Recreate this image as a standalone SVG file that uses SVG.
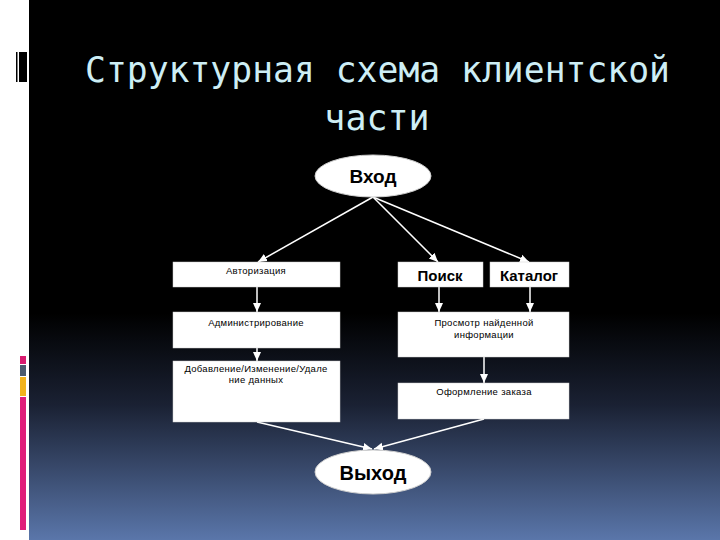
<svg xmlns="http://www.w3.org/2000/svg" width="720" height="540" viewBox="0 0 720 540">
  <defs>
    <linearGradient id="bg" x1="0" y1="0" x2="0" y2="540" gradientUnits="userSpaceOnUse">
      <stop offset="0" stop-color="#000000"/>
      <stop offset="0.58" stop-color="#000000"/>
      <stop offset="0.75" stop-color="#1a2133"/>
      <stop offset="1" stop-color="#5a76aa"/>
    </linearGradient>
    <marker id="ah" markerUnits="userSpaceOnUse" markerWidth="10" markerHeight="10" viewBox="0 0 10 10" refX="9" refY="5" orient="auto">
      <path d="M0,1 L9,5 L0,9 Z" fill="#ffffff"/>
    </marker>
    <style>
      .title { font-family: "DejaVu Sans Mono", "Liberation Mono", monospace; font-size: 35px; fill: #cdeef5; }
      .box { fill: #ffffff; stroke: #d0d0d0; stroke-width: 0.5; }
      .ell { fill: #ffffff; stroke: #cfcfcf; stroke-width: 1; }
      .small { font-family: "Liberation Sans", Arial, sans-serif; font-size: 9.5px; fill: #000000; text-anchor: middle; letter-spacing: 0.3px; }
      .bold { font-family: "Liberation Sans", Arial, sans-serif; font-weight: bold; fill: #000000; text-anchor: middle; }
      .conn line { stroke: #ffffff; stroke-width: 1.5; marker-end: url(#ah); }
    </style>
  </defs>

  <!-- background -->
  <rect x="0" y="0" width="720" height="540" fill="#ffffff"/>
  <rect x="29" y="0" width="691" height="540" fill="url(#bg)"/>

  <!-- left decorations -->
  <rect x="16" y="52" width="1.5" height="30" fill="#000000"/>
  <rect x="19" y="52" width="8" height="30" fill="#000000"/>
  <rect x="20" y="356" width="6" height="8" fill="#d81b6f"/>
  <rect x="20" y="365" width="6" height="11" fill="#4b5a6e"/>
  <rect x="20" y="377" width="6" height="19" fill="#f2b31c"/>
  <rect x="20" y="397" width="6" height="133" fill="#e01d7a"/>

  <!-- title -->
  <text class="title" x="85" y="82" textLength="585" lengthAdjust="spacingAndGlyphs">Структурная схема клиентской</text>
  <text class="title" x="377" y="130" text-anchor="middle">части</text>

  <!-- connectors -->
  <g id="connectors" class="conn">
    <line x1="373" y1="197" x2="258" y2="262"/>
    <line x1="373" y1="197" x2="438" y2="262"/>
    <line x1="373" y1="197" x2="529" y2="262"/>
    <line x1="257" y1="287" x2="257" y2="312"/>
    <line x1="439" y1="287" x2="439" y2="312"/>
    <line x1="530" y1="287" x2="530" y2="312"/>
    <line x1="257" y1="348" x2="257" y2="361"/>
    <line x1="484" y1="357" x2="484" y2="383"/>
    <line x1="257" y1="422" x2="372" y2="449"/>
    <line x1="484" y1="419" x2="374" y2="449"/>
  </g>

  <!-- nodes -->
  <g id="vhod">
    <ellipse class="ell" cx="373" cy="176" rx="58" ry="21"/>
    <text class="bold" x="373" y="183" font-size="19">Вход</text>
  </g>
  <g id="avtorizaciya">
    <rect class="box" x="173" y="262" width="167" height="25"/>
    <text class="small" x="256" y="274">Авторизация</text>
  </g>
  <g id="poisk">
    <rect class="box" x="398" y="262" width="85" height="25"/>
    <text class="bold" x="440" y="281" font-size="15">Поиск</text>
  </g>
  <g id="katalog">
    <rect class="box" x="490" y="262" width="79" height="25"/>
    <text class="bold" x="529" y="281" font-size="15">Каталог</text>
  </g>
  <g id="administrirovanie">
    <rect class="box" x="173" y="312" width="167" height="36"/>
    <text class="small" x="256" y="326">Администрирование</text>
  </g>
  <g id="prosmotr">
    <rect class="box" x="398" y="312" width="171" height="45"/>
    <text class="small" x="484" y="326">Просмотр найденной</text>
    <text class="small" x="484" y="338">информации</text>
  </g>
  <g id="dobavlenie">
    <rect class="box" x="173" y="361" width="167" height="61"/>
    <text class="small" x="256" y="372">Добавление/Изменение/Удале</text>
    <text class="small" x="256" y="383">ние данных</text>
  </g>
  <g id="oformlenie">
    <rect class="box" x="398" y="383" width="171" height="36"/>
    <text class="small" x="484" y="395">Оформление заказа</text>
  </g>
  <g id="vyhod">
    <ellipse class="ell" cx="373" cy="472" rx="58" ry="22"/>
    <text class="bold" x="373" y="480" font-size="20">Выход</text>
  </g>
</svg>
